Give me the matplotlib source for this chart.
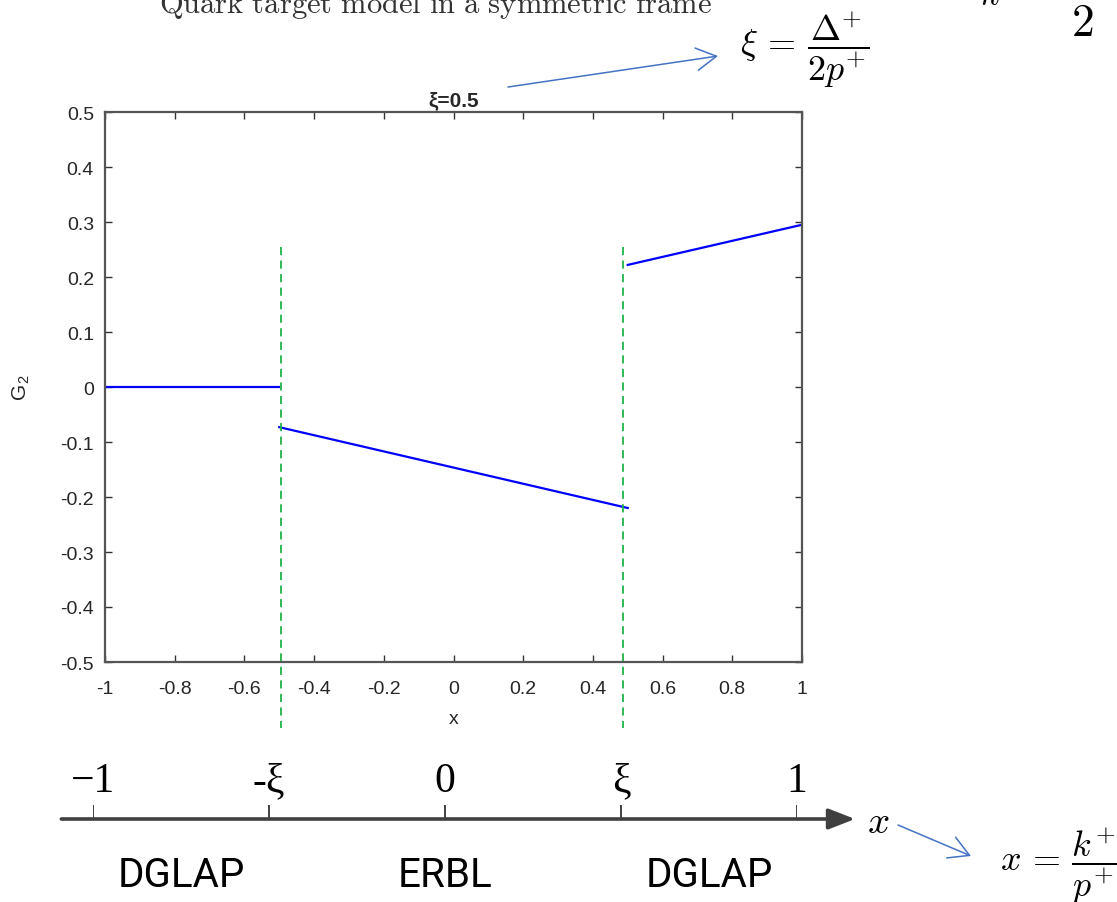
import matplotlib.pyplot as plt
import numpy as np

# Datos del grafico G2 (modelo de quark, xi = 0.5)
x_dglap_izq = [-1.0, -0.5]
g2_dglap_izq = [0.0, 0.0]
x_erbl = [-0.5, 0.5]
g2_erbl = [-0.073, -0.22]
x_dglap_der = [0.5, 1.0]
g2_dglap_der = [0.222, 0.295]
lineas_xi = [-0.495, 0.485]

xticks = [-1, -0.8, -0.6, -0.4, -0.2, 0, 0.2, 0.4, 0.6, 0.8, 1]
xtick_labels = ["-1", "-0.8", "-0.6", "-0.4", "-0.2", "0", "0.2", "0.4", "0.6", "0.8", "1"]
yticks = [-0.5, -0.4, -0.3, -0.2, -0.1, 0, 0.1, 0.2, 0.3, 0.4, 0.5]
ytick_labels = ["-0.5", "-0.4", "-0.3", "-0.2", "-0.1", "0", "0.1", "0.2", "0.3", "0.4", "0.5"]

# Eje esquematico de abajo
diag_ticks = [-1, -0.5, 0, 0.5, 1]
diag_labels = ["\u22121", "-\u03be", "0", "\u03be", "1"]
regiones = ["DGLAP", "ERBL", "DGLAP"]
centros_regiones = [-0.75, 0, 0.75]

plt.rcParams["mathtext.fontset"] = "cm"

W, H = 1117, 903
fig = plt.figure(figsize=(W / 100, H / 100), dpi=100)

# capa de anotaciones en pixeles
ov = fig.add_axes([0, 0, 1, 1])
ov.set_xlim(0, W)
ov.set_ylim(H, 0)
ov.axis("off")

# grafico principal (estilo MATLAB)
ax = fig.add_axes([105 / W, 1 - 663 / H, 697 / W, 550 / H])
azul = "#0000ff"
ax.plot(x_dglap_izq, g2_dglap_izq, color=azul, lw=1.6)
ax.plot(x_erbl, g2_erbl, color=azul, lw=1.6)
ax.plot(x_dglap_der, g2_dglap_der, color=azul, lw=1.6)
for xv in lineas_xi:
    ax.plot([xv, xv], [0.255, -0.62], color="#1fb24a", lw=1.3,
            linestyle=(0, (4.5, 3)), clip_on=False)

ax.set_xlim(-1, 1)
ax.set_ylim(-0.5, 0.5)
ax.set_xticks(xticks)
ax.set_xticklabels(xtick_labels)
ax.set_yticks(yticks)
ax.set_yticklabels(ytick_labels)
ax.tick_params(direction="in", top=True, right=True, length=5, width=1,
               color="#333333", labelcolor="#262626", labelsize=14)
ax.tick_params(axis="x", pad=13)
ax.tick_params(axis="y", pad=8)
for s in ax.spines.values():
    s.set_color("#555555")
    s.set_linewidth(1.6)
for lab in ax.get_xticklabels() + ax.get_yticklabels():
    lab.set_family("Liberation Sans")
ax.set_xlabel("x", fontsize=14, family="Liberation Sans", color="#262626", labelpad=9)
ax.set_ylabel(r"G$_\mathregular{2}$", fontsize=15, family="Liberation Sans",
              color="#262626", labelpad=20)
ax.set_title("\u03be=0.5", fontsize=15, fontweight="bold", family="Liberation Sans",
             color="#262626", pad=5)

# texto de la diapositiva
ov.text(436, 13, r"$\mathrm{Quark\ target\ model\ in\ a\ symmetric\ frame}$",
        fontsize=22, ha="center", va="baseline", color="#333333")
ov.text(740, 50, r"$\xi\,=\,\dfrac{\Delta^{+}}{2p^{+}}$", fontsize=26,
        ha="left", va="center")
ov.text(1082, 24, r"$\mathbf{2}$", fontsize=33, ha="center", va="center")
ov.text(1112, 22, r"$($", fontsize=30, ha="left", va="center")
ov.text(990, 12, r"$k$", fontsize=26, ha="center", va="bottom")
ov.text(1000, 866, r"$x\,=\,\dfrac{k^{+}}{p^{+}}$", fontsize=26,
        ha="left", va="center")

flecha = dict(arrowstyle="->,head_length=0.8,head_width=0.45", color="#4472c4",
              lw=1.1, mutation_scale=18, shrinkA=0, shrinkB=0)
ov.annotate("", xy=(718, 57), xytext=(508, 88), arrowprops=flecha)
ov.annotate("", xy=(971, 857), xytext=(898, 826), arrowprops=flecha)

# eje esquematico
axd = fig.add_axes([93 / W, 0, (797 - 93) / W, 1])
axd.set_xlim(-1, 1)
axd.set_ylim(H, 0)
axd.axis("off")
axd.annotate("", xy=(1.165, 820), xytext=(-1.09, 820), annotation_clip=False,
             arrowprops=dict(arrowstyle="-|>,head_length=0.9,head_width=0.35",
                             color="#404040", lw=2.6, mutation_scale=18,
                             shrinkA=0, shrinkB=0))
axd.vlines(diag_ticks, 806, 820, color="#222222", lw=1.2)
for v, lab in zip(diag_ticks, diag_labels):
    axd.text(v, 792, lab, fontsize=30, family="Liberation Serif",
             ha="center", va="baseline")
axd.text(1.23, 822, r"$x$", fontsize=28, ha="center", va="center")
for c, nombre in zip(centros_regiones, regiones):
    axd.text(c, 887, nombre, fontsize=29, family="Roboto", ha="center", va="baseline")

fig.savefig("out.png", dpi=100)
